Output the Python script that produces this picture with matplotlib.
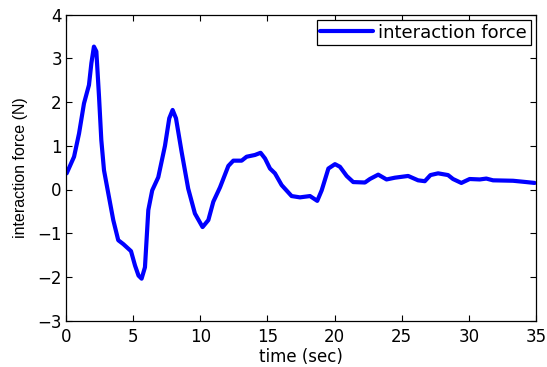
import matplotlib
matplotlib.use("Agg")
import matplotlib.pyplot as plt

t = [0.05, 0.6, 0.97, 1.34, 1.71, 1.89, 2.08, 2.26, 2.46, 2.63, 2.83, 3.15, 3.52, 3.89, 4.27, 4.84,
     5.14, 5.4, 5.63, 5.88, 6.13, 6.42, 6.87, 7.37, 7.69, 7.94, 8.19, 8.61, 9.1, 9.6, 10.17, 10.6,
     10.97, 11.47, 12.09, 12.46, 13.08, 13.45, 14.07, 14.49, 14.82, 15.19, 15.56, 16.06, 16.8,
     17.42, 18.17, 18.71, 19.04, 19.54, 20.03, 20.4, 20.9, 21.39, 22.26, 22.63, 23.25, 23.87,
     24.49, 25.48, 26.22, 26.72, 27.14, 27.71, 28.45, 28.82, 29.44, 30.06, 30.81, 31.3, 31.8,
     33.29, 34.28, 34.9]
force = [0.37, 0.75, 1.28, 1.97, 2.39, 2.89, 3.27, 3.16, 2.12, 1.13, 0.44, -0.09, -0.7, -1.16, -1.25, -1.41,
         -1.74, -1.97, -2.04, -1.78, -0.47, -0.02, 0.28, 1.0, 1.63, 1.82, 1.63, 0.86, 0.02, -0.55, -0.86, -0.7,
         -0.28, 0.05, 0.54, 0.66, 0.66, 0.75, 0.79, 0.84, 0.71, 0.48, 0.37, 0.1, -0.15,
         -0.18, -0.15, -0.26, -0.02, 0.48, 0.58, 0.52, 0.31, 0.17, 0.16, 0.24, 0.34, 0.23,
         0.27, 0.31, 0.21, 0.19, 0.33, 0.37, 0.33, 0.24, 0.15, 0.24, 0.23, 0.25, 0.21,
         0.2, 0.17, 0.15]

xticks = [0, 5, 10, 15, 20, 25, 30, 35]
yticks = [-3, -2, -1, 0, 1, 2, 3, 4]
ytick_labels = ['\u22123', '\u22122', '\u22121', '0', '1', '2', '3', '4']

plt.rcParams['font.family'] = ['DejaVu Sans']
fig = plt.figure(figsize=(5.47, 3.67), dpi=100)
ax = fig.add_axes([66/547, 1 - 320.6/367, (536-66)/547, (320.6-14.7)/367])
ax.plot(t, force, color='#0000ff', lw=3, label='interaction force',
        solid_joinstyle='round', solid_capstyle='round')
ax.set_xlim(0, 35)
ax.set_ylim(-3, 4)
ax.set_xticks(xticks)
ax.set_yticks(yticks)
ax.set_yticklabels(ytick_labels)
ax.tick_params(direction='in', top=True, right=True, labelsize=12, length=4, width=0.8)
ax.tick_params(axis='x', pad=5.5)
ax.tick_params(axis='y', pad=3)
ax.set_xlabel('time (sec)', fontsize=12, labelpad=1)
ax.set_ylabel('interaction force (N)', fontsize=11.5, family='Liberation Sans', labelpad=7)
for s in ax.spines.values():
    s.set_linewidth(0.9)
leg = ax.legend(loc='upper right', fontsize=13, fancybox=False, framealpha=1, edgecolor='black',
                borderpad=0.2, handlelength=2.9, handletextpad=0.3, borderaxespad=0.3)
leg.get_frame().set_linewidth(0.9)
fig.savefig('out.png', dpi=100)
